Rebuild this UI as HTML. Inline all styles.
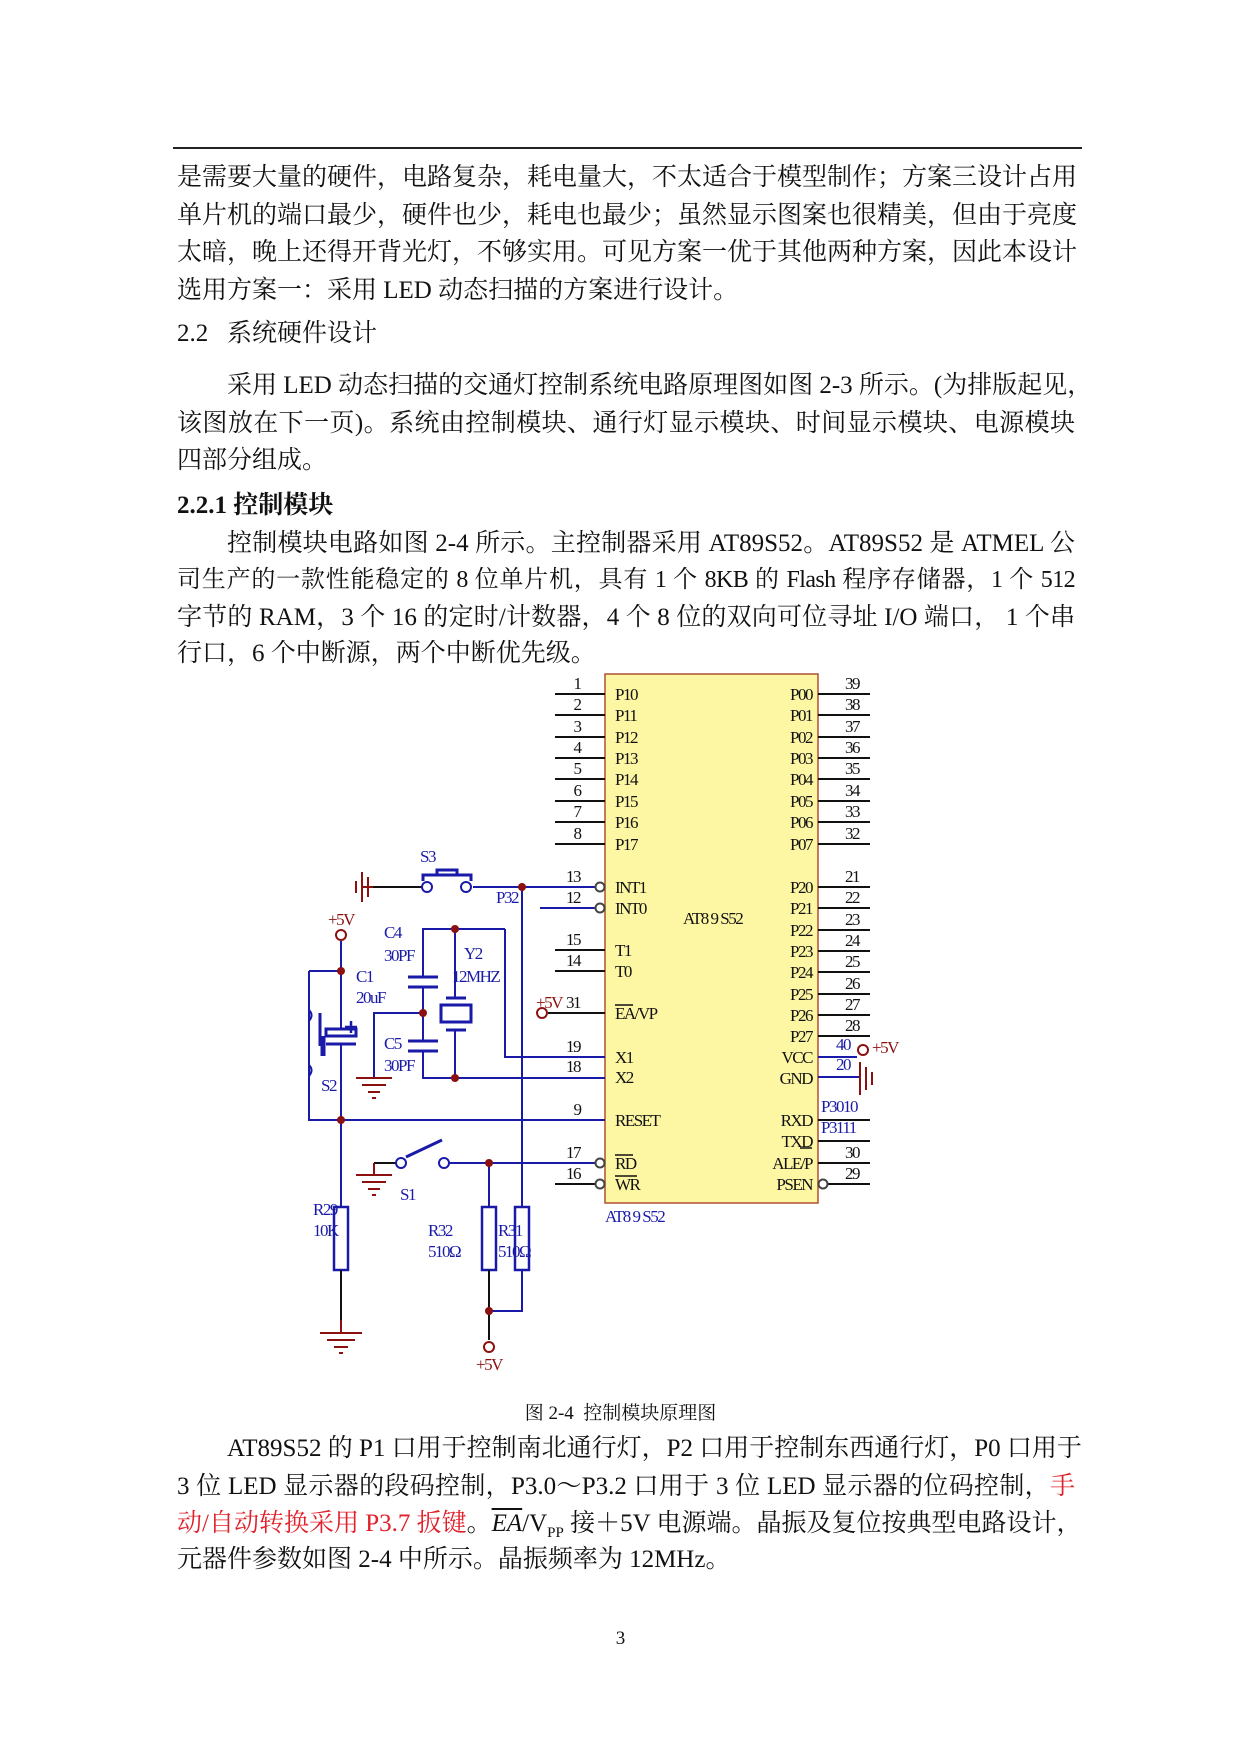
<!DOCTYPE html>
<html><head><meta charset="utf-8">
<style>
html,body{margin:0;padding:0;background:#fff}
body{width:1241px;height:1754px;position:relative;overflow:hidden;font-family:"Liberation Serif","Noto Serif CJK SC",serif;color:#111}
.l{position:absolute;left:177px;width:898px;font-size:25px;line-height:30px;white-space:nowrap}
.j{text-align:justify;text-align-last:justify}
.red{color:#e0202a}
svg text{font-family:"Liberation Serif",serif}
</style></head><body>
<div style="position:absolute;left:173px;top:147px;width:909px;height:2px;background:#222"></div>
<div class="l j" style="top:163px">是需要大量的硬件，电路复杂，耗电量大，不太适合于模型制作；方案三设计占用</div>
<div class="l j" style="top:201px">单片机的端口最少，硬件也少，耗电也最少；虽然显示图案也很精美，但由于亮度</div>
<div class="l j" style="top:238px">太暗，晚上还得开背光灯，不够实用。可见方案一优于其他两种方案，因此本设计</div>
<div class="l" style="top:276px">选用方案一：采用 LED 动态扫描的方案进行设计。</div>
<div class="l" style="top:319px">2.2&nbsp;&nbsp;&nbsp;系统硬件设计</div>
<div class="l j" style="top:371px;left:227px;width:848px">采用 LED 动态扫描的交通灯控制系统电路原理图如图 2-3 所示。(为排版起见，</div>
<div class="l j" style="top:409px">该图放在下一页)。系统由控制模块、通行灯显示模块、时间显示模块、电源模块</div>
<div class="l" style="top:446px">四部分组成。</div>
<div class="l" style="top:491px;font-weight:bold">2.2.1 控制模块</div>
<div class="l j" style="top:529px;left:227px;width:848px">控制模块电路如图 2-4 所示。主控制器采用 AT89S52。AT89S52 是 ATMEL 公</div>
<div class="l j" style="top:565px;font-size:24px;letter-spacing:-0.6px">司生产的一款性能稳定的 8 位单片机，具有 1 个 8KB 的 Flash 程序存储器，1 个 512</div>
<div class="l j" style="top:603px">字节的 RAM，3 个 16 的定时/计数器，4 个 8 位的双向可位寻址 I/O 端口，  1 个串</div>
<div class="l" style="top:639px">行口，6 个中断源，两个中断优先级。</div>

<svg style="position:absolute;left:0;top:0" width="1241" height="1754">
<g stroke-width="2" fill="none">
<rect x="605" y="674" width="213" height="529" fill="#fdf7a4" stroke="#b05030" stroke-width="1.5"/>
<g stroke="#111">
<path d="M555 694H605M555 715H605M555 737H605M555 758H605M555 779H605M555 801H605M555 822H605M555 844H605"/>
<path d="M818 694H870M818 715H870M818 737H870M818 758H870M818 779H870M818 801H870M818 822H870M818 844H870"/>
<path d="M818 887H870M818 908H870M818 930H870M818 951H870M818 972H870M818 994H870M818 1015H870M818 1036H870"/>
<path d="M555 950H605M555 971H605M548 1013H605M818 1120H870M818 1141H870M818 1163H870M828 1184H870M555 1184H600"/>
</g>
<g stroke="#1a1aa8">
<path d="M473 887H600M540 908H600M505 929H423V977M423 987V1041M423 1051V1078H605M505 929V1057H605M455 929V998M455 1030V1078"/>
<path d="M423 1013H374V1078M522 887V1207M522 1270V1311H489M489 1163V1207M444 1163H600"/>
<path d="M341 941V1029M341 1044V1207M309 971H341M309 971V1120H605M818 1057H857M818 1077H860"/>
<path d="M408 977H438M408 987H438M408 1041H438M408 1051H438M446 998H466M446 1030H466" stroke-width="3"/>
<rect x="441" y="1005" width="30" height="17" stroke-width="3"/>
<rect x="326" y="1029" width="30" height="7" stroke-width="3"/>
<path d="M326 1044H356M320 1013V1046M406 1157L442 1140" stroke-width="3"/>
<path d="M323 1036V1056" stroke-width="5"/>
<path d="M309 1010Q314 1015 309 1021M309 1065Q314 1070 309 1076"/>
<path d="M423 881V875H471V881M437 875V870H457V875" stroke-width="3"/>
<rect x="334" y="1207" width="14" height="63" stroke-width="2.5"/>
<rect x="482" y="1207" width="14" height="63" stroke-width="2.5"/>
<rect x="515" y="1207" width="14" height="63" stroke-width="2.5"/>
</g>
<g stroke="#111"><path d="M373 887H423M341 1270V1320M489 1270V1340M374 1163H401"/></g>
<g stroke="#8b1010">
<path d="M362 887H373M362 872V902M368 877V897M356 881V893"/>
<path d="M356 1078H392M362 1085H386M368 1092H380M372 1098H376"/>
<path d="M356 1175H392M362 1182H386M368 1189H380M372 1195H376M374 1163V1175"/>
<path d="M320 1333H362M327 1340H355M334 1347H348M339 1353H343M341 1320V1333"/>
<path d="M860 1062V1095M866 1067V1090M872 1072V1085"/>
<circle cx="341" cy="935" r="5"/><circle cx="489" cy="1347" r="5"/><circle cx="542" cy="1013" r="5"/><circle cx="863" cy="1050" r="5"/>
</g>
<g stroke="#1a1aa8" fill="#fff"><circle cx="427" cy="887" r="5"/><circle cx="466" cy="887" r="5"/><circle cx="401" cy="1163" r="5"/><circle cx="444" cy="1163" r="5"/></g>
<g stroke="#444" fill="#fff"><circle cx="600" cy="887" r="4.5"/><circle cx="600" cy="908" r="4.5"/><circle cx="600" cy="1163" r="4.5"/><circle cx="600" cy="1184" r="4.5"/><circle cx="823" cy="1184" r="4.5"/></g>
<g fill="#8b1010" stroke="none"><circle cx="522" cy="887" r="4"/><circle cx="341" cy="971" r="4"/><circle cx="455" cy="929" r="4"/><circle cx="423" cy="1013" r="4"/><circle cx="455" cy="1078" r="4"/><circle cx="341" cy="1120" r="4"/><circle cx="489" cy="1163" r="4"/><circle cx="489" cy="1311" r="4"/></g>
</g>
<g font-size="17" fill="#111" style="letter-spacing:-1.5px">
<g text-anchor="middle"><text x="577" y="689">1</text><text x="577" y="710">2</text><text x="577" y="732">3</text><text x="577" y="753">4</text><text x="577" y="774">5</text><text x="577" y="796">6</text><text x="577" y="817">7</text><text x="577" y="839">8</text>
<text x="573" y="882">13</text><text x="573" y="903">12</text><text x="573" y="945">15</text><text x="573" y="966">14</text><text x="573" y="1008">31</text><text x="573" y="1052">19</text><text x="573" y="1072">18</text><text x="577" y="1115">9</text><text x="573" y="1158">17</text><text x="573" y="1179">16</text>
<text x="852" y="689">39</text><text x="852" y="710">38</text><text x="852" y="732">37</text><text x="852" y="753">36</text><text x="852" y="774">35</text><text x="852" y="796">34</text><text x="852" y="817">33</text><text x="852" y="839">32</text>
<text x="852" y="882">21</text><text x="852" y="903">22</text><text x="852" y="925">23</text><text x="852" y="946">24</text><text x="852" y="967">25</text><text x="852" y="989">26</text><text x="852" y="1010">27</text><text x="852" y="1031">28</text><text x="852" y="1158">30</text><text x="852" y="1179">29</text></g>
<text x="615" y="700">P10</text><text x="615" y="721">P11</text><text x="615" y="743">P12</text><text x="615" y="764">P13</text><text x="615" y="785">P14</text><text x="615" y="807">P15</text><text x="615" y="828">P16</text><text x="615" y="850">P17</text>
<text x="615" y="893">INT1</text><text x="615" y="914">INT0</text><text x="615" y="956">T1</text><text x="615" y="977">T0</text><text x="615" y="1019">EA/VP</text><text x="615" y="1063">X1</text><text x="615" y="1083">X2</text><text x="615" y="1126">RESET</text><text x="615" y="1169">RD</text><text x="615" y="1190">WR</text>
<path d="M615 1005H633M615 1155H633M615 1176H637M800 1148H812" stroke="#111" stroke-width="1.5"/>
<g text-anchor="end"><text x="812" y="700">P00</text><text x="812" y="721">P01</text><text x="812" y="743">P02</text><text x="812" y="764">P03</text><text x="812" y="785">P04</text><text x="812" y="807">P05</text><text x="812" y="828">P06</text><text x="812" y="850">P07</text>
<text x="812" y="893">P20</text><text x="812" y="914">P21</text><text x="812" y="936">P22</text><text x="812" y="957">P23</text><text x="812" y="978">P24</text><text x="812" y="1000">P25</text><text x="812" y="1021">P26</text><text x="812" y="1042">P27</text>
<text x="812" y="1063">VCC</text><text x="812" y="1084">GND</text><text x="812" y="1126">RXD</text><text x="812" y="1147">TXD</text><text x="812" y="1169">ALE/P</text><text x="812" y="1190">PSEN</text></g>
<text x="683" y="924">AT8 9 S52</text>
<g fill="#1a1aa8"><text x="605" y="1222">AT8 9 S52</text><text x="518" y="903" text-anchor="end">P32</text><text x="821" y="1112">P3010</text><text x="821" y="1133">P3111</text><text x="836" y="1050">40</text><text x="836" y="1070">20</text>
<text x="420" y="862">S3</text><text x="384" y="938">C4</text><text x="384" y="961">30PF</text><text x="464" y="959">Y2</text><text x="452" y="982">12MHZ</text><text x="356" y="982">C1</text><text x="356" y="1003">20uF</text><text x="384" y="1049">C5</text><text x="384" y="1071">30PF</text><text x="321" y="1091">S2</text><text x="400" y="1200">S1</text>
<text x="313" y="1215">R29</text><text x="313" y="1236">10K</text><text x="428" y="1236">R32</text><text x="428" y="1257">510Ω</text><text x="498" y="1236">R31</text><text x="498" y="1257">510Ω</text></g>
<g fill="#8b1010"><text x="328" y="925">+5V</text><text x="476" y="1370">+5V</text><text x="536" y="1008">+5V</text><text x="872" y="1053">+5V</text></g>
<path d="M351 1021V1033M345 1027H357" stroke="#1a1aa8" stroke-width="2.5"/>
</g>
</svg>

<div style="position:absolute;left:0;width:1241px;top:1398px;text-align:center;font-size:19px">图 2-4&nbsp;&nbsp;控制模块原理图</div>
<div class="l j" style="top:1434px;left:227px;width:848px">AT89S52 的 P1 口用于控制南北通行灯，P2 口用于控制东西通行灯，P0 口用于</div>
<div class="l j" style="top:1472px">3 位 LED 显示器的段码控制，P3.0～P3.2 口用于 3 位 LED 显示器的位码控制，<span class="red">手</span></div>
<div class="l j" style="top:1509px"><span class="red">动/自动转换采用 P3.7 扳键</span>。<i style="text-decoration:overline">EA</i>/V<sub style="font-size:15px">PP</sub> 接＋5V 电源端。晶振及复位按典型电路设计，</div>
<div class="l" style="top:1545px">元器件参数如图 2-4 中所示。晶振频率为 12MHz。</div>
<div style="position:absolute;left:0;width:1241px;top:1628px;text-align:center;font-size:19px">3</div>
</body></html>
